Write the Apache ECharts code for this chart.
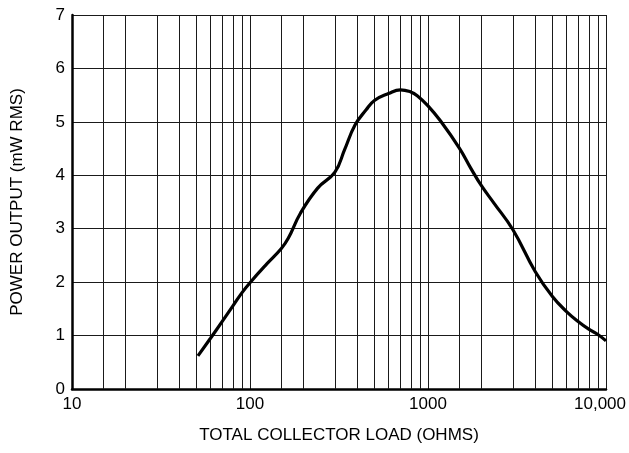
<!DOCTYPE html>
<html>
<head>
<meta charset="utf-8">
<script src="https://cdn.jsdelivr.net/npm/echarts@6/dist/echarts.min.js"></script>
<style>
html,body{margin:0;padding:0;background:#fff;}
#chart{width:629px;height:453px;}
</style>
</head>
<body>
<div id="chart"></div>
<script>
// Curve: total collector load (ohms) vs power output (mW RMS)
const loadOhms = [51, 60, 70, 80, 90, 100, 125, 150, 164, 192, 240, 300, 340, 389, 448, 500, 600, 700, 800, 870, 1000, 1174, 1500, 1741, 2000, 2346, 3000, 4000, 5000, 6000, 7000, 8000, 9000, 10000];
const powerMw  = [0.62, 0.95, 1.27, 1.55, 1.80, 1.99, 2.35, 2.63, 2.82, 3.29, 3.76, 4.06, 4.48, 4.94, 5.22, 5.40, 5.53, 5.60, 5.56, 5.49, 5.30, 5.02, 4.51, 4.13, 3.80, 3.48, 2.98, 2.2, 1.73, 1.45, 1.26, 1.12, 1.02, 0.9];

// Extra vertical grid lines of the log paper
const minorGrid = [15, 20, 30, 40, 50, 60, 70, 80, 90, 150, 200, 300, 400, 500, 600, 700, 800, 900, 1500, 2000, 3000, 4000, 5000, 6000, 7000, 8000, 9000];

const xTicks = [10, 100, 1000, 10000];
const xTickLabels = ['10', '100', '1000', '10,000'];
const yTicks = [0, 1, 2, 3, 4, 5, 6, 7];

const xTitle = 'TOTAL COLLECTOR LOAD (OHMS)';
const yTitle = 'POWER OUTPUT (mW RMS)';

const FONT = '"Liberation Sans", Arial, sans-serif';
const chart = echarts.init(document.getElementById('chart'), null, {renderer: 'canvas'});

chart.setOption({
  animation: false,
  backgroundColor: '#fff',
  grid: {left: 72, right: 23, top: 15, bottom: 64},
  xAxis: {
    type: 'log',
    logBase: 10,
    min: xTicks[0],
    max: xTicks[xTicks.length - 1],
    name: xTitle,
    nameLocation: 'middle',
    nameGap: 38,
    nameTextStyle: {fontFamily: FONT, fontSize: 17, color: '#000'},
    axisLine: {show: true, onZero: false, lineStyle: {color: '#000', width: 2.5}},
    axisTick: {show: false},
    splitLine: {show: true, lineStyle: {color: '#1a1a1a', width: 1}},
    axisLabel: {
      fontFamily: FONT, fontSize: 17, color: '#000', margin: 7,
      formatter: function (v) {
        const i = xTicks.indexOf(v);
        const s = i >= 0 ? xTickLabels[i] : '';
        return i === xTicks.length - 1 ? '{last|' + s + '}' : s;
      },
      rich: {last: {fontFamily: FONT, fontSize: 17, color: '#000', padding: [0, 12, 0, 0]}}
    }
  },
  yAxis: {
    type: 'value',
    min: yTicks[0],
    max: yTicks[yTicks.length - 1],
    interval: 1,
    name: yTitle,
    nameLocation: 'middle',
    nameGap: 46,
    nameTextStyle: {fontFamily: FONT, fontSize: 17, color: '#000'},
    axisLine: {show: true, lineStyle: {color: '#000', width: 2.5}},
    axisTick: {show: false},
    splitLine: {show: true, lineStyle: {color: '#1a1a1a', width: 1}},
    axisLabel: {fontFamily: FONT, fontSize: 17, color: '#000', margin: 7}
  },
  series: [
    {
      type: 'line',
      data: [],
      z: 1,
      silent: true,
      markLine: {
        silent: true,
        symbol: ['none', 'none'],
        label: {show: false},
        animation: false,
        lineStyle: {type: 'solid', color: '#1a1a1a', width: 1},
        data: minorGrid.map(v => ({xAxis: v}))
      }
    },
    {
      type: 'line',
      z: 5,
      data: loadOhms.map((x, i) => [x, powerMw[i]]),
      smooth: 0.45,
      showSymbol: false,
      symbol: 'none',
      lineStyle: {color: '#000', width: 3.2}
    }
  ]
});
</script>
</body>
</html>
